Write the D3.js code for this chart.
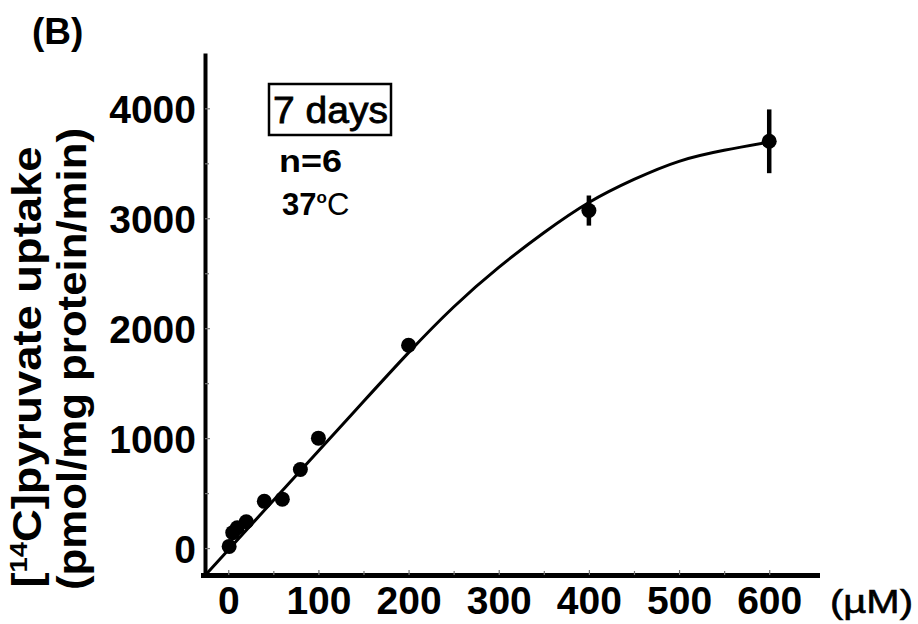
<!DOCTYPE html>
<html>
<head>
<meta charset="utf-8">
<script src="https://cdn.jsdelivr.net/npm/d3@7"></script>
<style>
  body { margin: 0; background: #fff; }
  svg { display: block; font-family: "Liberation Sans", Arial, sans-serif; }
</style>
</head>
<body>
<svg id="chart" width="918" height="624"></svg>
<script>
// measured points (concentration in uM, uptake in pmol/mg protein/min)
const concentration = [1, 5, 10, 20, 40, 60, 80, 100, 200, 400, 600];
const uptake = [15, 140, 185, 240, 425, 445, 715, 1000, 1845, 3070, 3700];
const uptakeErr = [0, 0, 0, 0, 0, 0, 0, 0, 0, 137, 290];

// fitted curve
const fitX = [-24, 0, 50, 100, 150, 200, 250, 300, 350, 400, 450, 500, 550, 600];
const fitY = [-233, -17, 433, 883, 1333, 1778, 2193, 2553, 2868, 3143, 3353, 3518, 3618, 3693];

const xTicks = d3.range(0, 601, 50);
const yTicks = d3.range(0, 4001, 500);

const svg = d3.select("#chart");

const x = d3.scaleLinear().domain([-28, 653]).range([203, 817]);
const y = d3.scaleLinear().domain([-245, 4485]).range([575, 55]);

// y axis
const yAxis = svg.append("g")
    .attr("transform", "translate(205,0)")
    .call(d3.axisLeft(y)
        .tickValues(yTicks)
        .tickSize(-5)
        .tickSizeOuter(0)
        .tickPadding(9)
        .tickFormat(d => d % 1000 === 0 ? d : ""));

// x axis
const xAxis = svg.append("g")
    .attr("transform", "translate(0,575)")
    .call(d3.axisBottom(x)
        .tickValues(xTicks)
        .tickSize(-5)
        .tickSizeOuter(0)
        .tickPadding(16)
        .tickFormat(d => d % 100 === 0 ? d : ""));

[yAxis, xAxis].forEach(g => {
    g.select(".domain").attr("stroke", "#000").attr("stroke-linecap", "square");
    g.selectAll(".tick line").attr("stroke", "#777").attr("stroke-width", 1.2);
    g.selectAll(".tick text")
        .attr("fill", "#000")
        .attr("font-size", 39)
        .attr("font-weight", "bold")
        .attr("font-family", "'Liberation Sans', Arial, sans-serif");
});
yAxis.select(".domain").attr("stroke-width", 4);
xAxis.select(".domain").attr("stroke-width", 5);
yAxis.selectAll(".tick text").attr("dy", "0.36em");
xAxis.selectAll(".tick text").attr("dy", "0.6em");
yAxis.selectAll(".tick").filter(d => d % 1000 !== 0).select("line").attr("x2", 4);
xAxis.selectAll(".tick").filter(d => d % 100 !== 0).select("line").attr("y2", -4);

// fitted curve
const fit = fitX.map((d, i) => [d, fitY[i]]);
svg.append("path")
    .datum(fit)
    .attr("fill", "none")
    .attr("stroke", "#000")
    .attr("stroke-width", 3)
    .attr("d", d3.line()
        .x(d => x(d[0]))
        .y(d => y(d[1]))
        .curve(d3.curveNatural));

// error bars
const pts = concentration.map((c, i) => ({ c: c, v: uptake[i], e: uptakeErr[i] }));
svg.selectAll(".err")
    .data(pts.filter(d => d.e > 0))
    .join("line")
    .attr("class", "err")
    .attr("x1", d => x(d.c))
    .attr("x2", d => x(d.c))
    .attr("y1", d => y(d.v - d.e))
    .attr("y2", d => y(d.v + d.e))
    .attr("stroke", "#000")
    .attr("stroke-width", 4.5);

svg.selectAll(".dot")
    .data(pts)
    .join("circle")
    .attr("class", "dot")
    .attr("cx", d => x(d.c))
    .attr("cy", d => y(d.v))
    .attr("r", 7.5)
    .attr("fill", "#000");

// y axis title, two lines
const yTitle = svg.append("g").attr("font-weight", "bold").attr("font-size", 40);
const t1 = yTitle.append("text")
    .attr("transform", "translate(41,367) rotate(-90)")
    .attr("text-anchor", "middle")
    .attr("textLength", 441)
    .attr("lengthAdjust", "spacingAndGlyphs");
t1.append("tspan").text("[");
t1.append("tspan").attr("font-size", 24).attr("dy", -14).text("14");
t1.append("tspan").attr("dy", 14).text("C]pyruvate uptake");
yTitle.append("text")
    .attr("transform", "translate(86,359) rotate(-90)")
    .attr("text-anchor", "middle")
    .attr("textLength", 462)
    .attr("lengthAdjust", "spacingAndGlyphs")
    .text("(pmol/mg protein/min)");

// panel letter
svg.append("text")
    .attr("x", 32).attr("y", 44)
    .attr("font-size", 37).attr("font-weight", "bold")
    .text("(B)");

// unit on x axis
svg.append("text")
    .attr("x", 830).attr("y", 613)
    .attr("font-size", 34)
    .attr("stroke", "#000").attr("stroke-width", 0.6)
    .attr("textLength", 83)
    .attr("lengthAdjust", "spacingAndGlyphs")
    .text("(\u00b5M)");

// annotations
svg.append("rect")
    .attr("x", 269).attr("y", 84)
    .attr("width", 122).attr("height", 51)
    .attr("fill", "none").attr("stroke", "#000").attr("stroke-width", 2.5);
svg.append("text")
    .attr("x", 273).attr("y", 123)
    .attr("font-size", 37)
    .attr("stroke", "#000").attr("stroke-width", 0.8)
    .attr("textLength", 115)
    .attr("lengthAdjust", "spacingAndGlyphs")
    .text("7 days");
svg.append("text")
    .attr("x", 279).attr("y", 172)
    .attr("font-size", 31).attr("font-weight", "bold")
    .attr("textLength", 63)
    .attr("lengthAdjust", "spacingAndGlyphs")
    .text("n=6");
const temp = svg.append("text")
    .attr("x", 282).attr("y", 215)
    .attr("font-size", 31).attr("font-weight", "bold");
temp.append("tspan").text("37");
temp.append("tspan").attr("font-size", 17).attr("dx", 0).attr("dy", -12).text("o");
temp.append("tspan").attr("font-weight", "normal").attr("dx", 0).attr("dy", 12).text("C");
</script>
</body>
</html>
